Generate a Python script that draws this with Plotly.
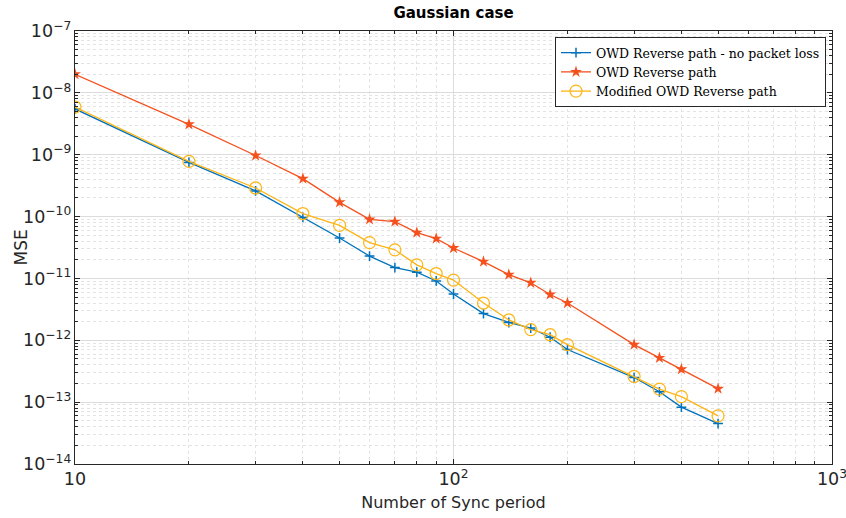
import plotly.graph_objects as go

sync_period = [10, 20, 30, 40, 50, 60, 70, 80, 90, 100, 120, 140, 160, 180, 200, 300, 350, 400, 500]

mse_no_loss = [5.5e-9, 7.5e-10, 2.6e-10, 9.7e-11, 4.5e-11, 2.3e-11, 1.5e-11, 1.26e-11, 9.1e-12, 5.6e-12,
               2.7e-12, 1.94e-12, 1.58e-12, 1.12e-12, 7.1e-13, 2.5e-13, 1.47e-13, 8.3e-14, 4.5e-14]
mse_reverse = [2.0e-8, 3.1e-9, 9.7e-10, 4.1e-10, 1.7e-10, 9.0e-11, 8.3e-11, 5.5e-11, 4.4e-11, 3.1e-11,
               1.87e-11, 1.15e-11, 8.5e-12, 5.5e-12, 4.0e-12, 8.5e-13, 5.2e-13, 3.4e-13, 1.65e-13]
mse_modified = [5.9e-9, 7.8e-10, 2.9e-10, 1.12e-10, 7.2e-11, 3.8e-11, 2.9e-11, 1.66e-11, 1.2e-11, 9.4e-12,
                4.0e-12, 2.13e-12, 1.49e-12, 1.23e-12, 8.5e-13, 2.6e-13, 1.62e-13, 1.23e-13, 6.0e-14]

series_names = ["OWD Reverse path - no packet loss", "OWD Reverse path", "Modified OWD Reverse path"]
colors = ["#0072BD", "#F4511E", "#FDB515"]

SANS = "DejaVu Sans, Liberation Sans, Arial"

fig = go.Figure()
fig.add_trace(go.Scatter(x=sync_period, y=mse_no_loss, name=series_names[0], mode="lines+markers",
                         line=dict(color=colors[0], width=1.3),
                         marker=dict(symbol="cross-thin", size=7, line=dict(color=colors[0], width=1.5))))
fig.add_trace(go.Scatter(x=sync_period, y=mse_reverse, name=series_names[1], mode="lines+markers",
                         line=dict(color=colors[1], width=1.3),
                         marker=dict(symbol="star", size=9, color=colors[1])))
fig.add_trace(go.Scatter(x=sync_period, y=mse_modified, name=series_names[2], mode="lines+markers",
                         line=dict(color=colors[2], width=1.3),
                         marker=dict(symbol="circle-open", size=12, line=dict(color=colors[2], width=1.2))))

axis_common = dict(
    type="log", showline=True, linecolor="#262626", linewidth=1, mirror="ticks",
    ticks="inside", ticklen=5, tickcolor="#262626", dtick=1, exponentformat="power",
    showgrid=True, gridcolor="#dcdcdc", gridwidth=1, zeroline=False, automargin=False,
    ticklabeloverflow="allow",
    tickfont=dict(family=SANS, size=14, color="#262626"),
    minor=dict(ticks="inside", ticklen=3, tickcolor="#262626", showgrid=True,
               gridcolor="#e3e3e3", griddash="dot", gridwidth=1, dtick="D1"),
)

fig.update_layout(
    width=846, height=518,
    margin=dict(l=75, r=14, t=31, b=54, autoexpand=False),
    paper_bgcolor="white", plot_bgcolor="white",
    title=dict(text="<b>Gaussian case</b>", x=(75 + 832) / 2 / 846, xanchor="center", y=0.976, yanchor="middle",
               font=dict(family=SANS, size=15, color="black")),
    xaxis=dict(axis_common, range=[1, 3],
               title=dict(text="Number of Sync period", standoff=8,
                          font=dict(family=SANS, size=16, color="#262626"))),
    yaxis=dict(axis_common, range=[-14, -7]),
    annotations=[dict(text="MSE", textangle=-90, xref="paper", yref="paper",
                      x=(20 - 75) / 757, y=0.5, xanchor="center", yanchor="middle", showarrow=False,
                      font=dict(family=SANS, size=17, color="#262626"))],
    legend=dict(x=(826 - 75) / 757, y=1 - 6 / 433, xanchor="right", yanchor="top",
                bgcolor="white", bordercolor="#262626", borderwidth=1,
                font=dict(family="DejaVu Serif, Liberation Serif, Times New Roman", size=12.5, color="black"),
                itemwidth=30, tracegroupgap=0),
    showlegend=True,
)

fig.write_html("out.html")
